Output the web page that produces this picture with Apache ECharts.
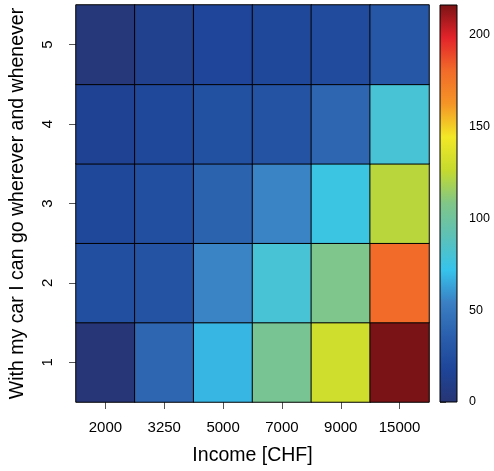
<!DOCTYPE html>
<html>
<head>
<meta charset="utf-8">
<style>
  html, body { margin: 0; padding: 0; background: #fff; }
  #chart { width: 494px; height: 471px; }
</style>
<script src="https://cdn.jsdelivr.net/npm/echarts@6/dist/echarts.min.js"></script>
</head>
<body>
<div id="chart"></div>
<script>
// Income brackets (x) and agreement levels (y)
const incomes = ['2000', '3250', '5000', '7000', '9000', '15000'];
const levels = ['1', '2', '3', '4', '5'];

// Counts per agreement level, one array per level, ordered by income
const level1 = [1, 40, 68, 104, 130, 216];
const level2 = [25, 28, 55, 80, 107, 180];
const level3 = [20, 25, 38, 55, 75, 123];
const level4 = [15, 20, 26, 28, 40, 80];
const level5 = [3, 12, 18, 20, 22, 30];

// Colour bar range and ticks
const zMin = 0;
const zMax = 216;
const barTicks = [0, 50, 100, 150, 200];

// Colour ramp from low to high
const palette = [
  '#273574', '#1e4599', '#2a5fad', '#3a7fc3', '#36c4ec', '#5cc1b8',
  '#80c688', '#c5da2e', '#f2e826', '#f59526', '#f26b29', '#e3232a', '#7a1315'
];

const rows = [level1, level2, level3, level4, level5];
const cells = [];
rows.forEach((row, yi) => {
  row.forEach((v, xi) => cells.push([xi, yi, v]));
});

const font = 'Liberation Sans, Arial, Helvetica, sans-serif';

const chart = echarts.init(document.getElementById('chart'), null, { renderer: 'canvas' });

chart.setOption({
  animation: false,
  backgroundColor: '#ffffff',
  grid: [
    { left: 76, right: 65, top: 5, bottom: 69 },
    { left: 440, width: 17, top: 5, bottom: 69 }
  ],
  xAxis: [
    {
      type: 'category',
      gridIndex: 0,
      data: incomes,
      name: 'Income [CHF]',
      nameLocation: 'middle',
      nameGap: 44,
      nameTextStyle: { fontFamily: font, fontSize: 19.5, color: '#000' },
      axisLine: { show: false },
      axisTick: { show: true, alignWithLabel: true, length: 7, lineStyle: { color: '#555' } },
      axisLabel: { fontFamily: font, fontSize: 15, color: '#000', margin: 18 },
      splitLine: { show: false }
    },
    {
      type: 'value',
      gridIndex: 1,
      min: 0,
      max: 1,
      show: false
    }
  ],
  yAxis: [
    {
      type: 'category',
      gridIndex: 0,
      data: levels,
      name: 'With my car I can go wherever and whenever',
      nameLocation: 'middle',
      nameGap: 48,
      nameTextStyle: { fontFamily: font, fontSize: 19.5, color: '#000' },
      axisLine: { show: false },
      axisTick: { show: true, alignWithLabel: true, length: 7, lineStyle: { color: '#555' } },
      axisLabel: { fontFamily: font, fontSize: 15, color: '#000', rotate: 90, margin: 21 },
      splitLine: { show: false }
    },
    {
      type: 'value',
      gridIndex: 1,
      position: 'right',
      min: zMin,
      max: zMax,
      interval: 50,
      axisLine: { show: false },
      axisTick: { show: true, length: 6, lineStyle: { color: '#555' } },
      axisLabel: {
        fontFamily: font, fontSize: 12.5, color: '#000', margin: 12,
        showMaxLabel: false,
        formatter: v => (barTicks.indexOf(v) >= 0 ? String(v) : '')
      },
      splitLine: { show: false }
    }
  ],
  visualMap: {
    show: false,
    type: 'continuous',
    seriesIndex: 0,
    dimension: 2,
    min: zMin,
    max: zMax,
    inRange: { color: palette }
  },
  series: [
    {
      type: 'heatmap',
      xAxisIndex: 0,
      yAxisIndex: 0,
      data: cells,
      itemStyle: { borderColor: '#000', borderWidth: 1 },
      emphasis: { disabled: true }
    },
    {
      // colour bar drawn as one gradient rectangle on its own value axis
      type: 'custom',
      xAxisIndex: 1,
      yAxisIndex: 1,
      data: [[0, zMax]],
      silent: true,
      renderItem: (params, api) => {
        const top = api.coord([0, zMax]);
        const bottom = api.coord([1, zMin]);
        const stops = palette.map((c, i) => ({
          offset: 1 - i / (palette.length - 1),
          color: c
        }));
        return {
          type: 'rect',
          shape: { x: top[0], y: top[1], width: bottom[0] - top[0], height: bottom[1] - top[1] },
          style: {
            fill: new echarts.graphic.LinearGradient(0, 0, 0, 1, stops),
            stroke: '#000',
            lineWidth: 1
          }
        };
      }
    }
  ]
});
</script>
</body>
</html>
